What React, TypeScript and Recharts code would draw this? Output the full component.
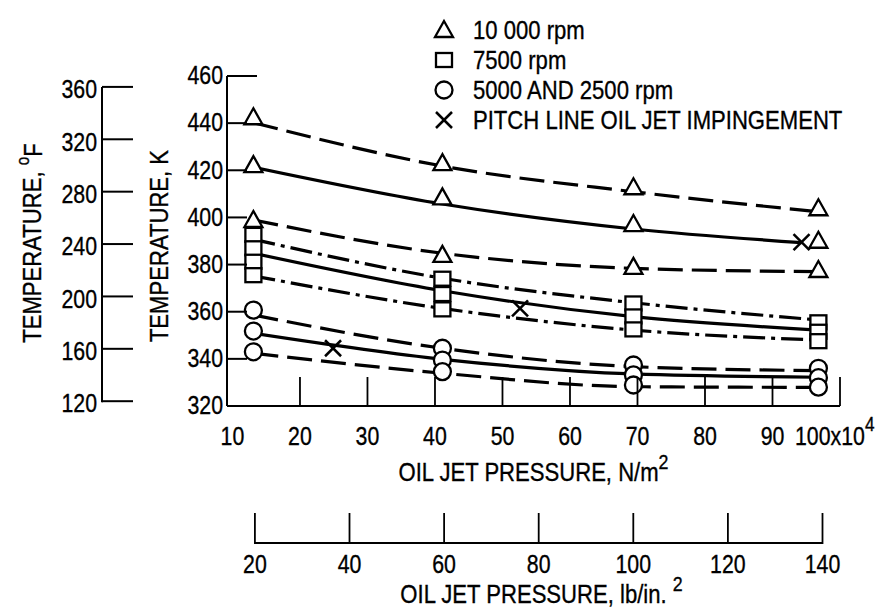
import React from 'react';
import { ComposedChart, Line, Scatter, XAxis, YAxis, Label } from 'recharts';

// Oil jet pressure columns, x10^4 N/m^2 (20, 60, 100, 140 lb/in.^2)
const COLS = [13.1, 41.1, 69.4, 96.8];
const COLS_SOLID_10K = [13.1, 41.1, 69.4, 94.3];

// faired curves, temperature K at each column
const DASH_10K_HI = [440.2, 421.8, 410.9, 402.4];
const SOLID_10K = [421.3, 405.7, 395.1, 389.3];
const DASH_10K_LO = [398.9, 384.8, 378.4, 377.0];
const DASHDOT_7500_HI = [390.7, 374.2, 363.8, 356.5];
const SOLID_7500 = [384.8, 368.9, 357.9, 352.2];
const DASHDOT_7500_LO = [375.2, 361.4, 352.2, 348.0];
const DASH_5000_HI = [358.6, 344.5, 336.7, 335.0];
const SOLID_5000 = [350.8, 339.8, 333.6, 332.2];
const DASH_5000_LO = [342.4, 333.9, 328.2, 327.9];

// measured points, per column
const TRI_K = [
  [442.5, 422.2, 398.9],
  [423.0, 408.5, 384.1],
  [412.8, 397.2, 379.0],
  [403.9, 390.1, 377.7],
];
const SQ_K = [
  [392.6, 386.9, 381.2, 375.5],
  [374.0, 367.5, 361.0],
  [363.5, 358.0, 352.5],
  [355.5, 351.5, 347.5],
];
const CIRC_K = [
  [360.7, 351.8, 343.0],
  [344.5, 339.5, 334.6],
  [337.4, 333.2, 328.9],
  [336.0, 332.0, 328.0],
];
const PITCH_X = [24.9, 52.6, 94.3];
const PITCH_K = [344.5, 361.4, 389.5];

const K_TICKS = [320, 340, 360, 380, 400, 420, 440, 460];
const F_TICKS = [120, 160, 200, 240, 280, 320, 360];
const N_TICKS = [10, 20, 30, 40, 50, 60, 70, 80, 90, 100];
const PSI_TICKS = [20, 40, 60, 80, 100, 120, 140];

const LEGEND = ['10 000 rpm', '7500 rpm', '5000 AND 2500 rpm', 'PITCH LINE OIL JET IMPINGEMENT'];

const FONT = "'Liberation Sans', Arial, sans-serif";
const FS = 26;
const SX_NUM = 0.82;
const SX_WORD = 0.85;

const W = 876;
const H = 610;
const M = { top: 76, right: 36, bottom: 0, left: 0 };
const F_AXIS_W = 102;
const K_AXIS_W = 125;
const N_AXIS_H = 204;
const PSI_LINE_DY = 137;
const PLOT_H = H - M.top - N_AXIS_H;

const K_DOMAIN = [320, 460];
const N_DOMAIN = [9.19, 100];
const PSI_DOMAIN = [14.1, 143.7];
const kToF = (k: number) => (k - 273.15) * 1.8 + 32;
const F_DOMAIN = [kToF(K_DOMAIN[0]), kToF(K_DOMAIN[1])];
const PX_PER_F = PLOT_H / (F_DOMAIN[1] - F_DOMAIN[0]);

const toLine = (xs: number[], ys: number[]) => xs.map((x, i) => ({ x, y: ys[i] }));
const toPoints = (cols: number[][]) =>
  cols.flatMap((vals, i) => vals.map((y) => ({ x: COLS[i], y })));

const triPts = toPoints(TRI_K);
const sqPts = toPoints(SQ_K);
const circPts = toPoints(CIRC_K);
const pitchPts = toLine(PITCH_X, PITCH_K);

const DASH = '25 9';
const DASHDOT = '22 6 4 6';

// condensed lettering: plain font squeezed horizontally
const T = ({ x, y, anchor = 'middle', sx = SX_WORD, rot = 0, children }: any) => (
  <g transform={`translate(${x} ${y}) rotate(${rot}) scale(${sx} 1)`}>
    <text
      x={0}
      y={0}
      textAnchor={anchor}
      dominantBaseline="central"
      fontFamily={FONT}
      fontSize={FS}
      fill="#000"
      stroke="#000"
      strokeWidth={0.35}
    >
      {children}
    </text>
  </g>
);

const Tri = ({ cx, cy }: any) => (
  <polygon
    points={`${cx},${cy - 9} ${cx - 9},${cy + 7} ${cx + 9},${cy + 7}`}
    fill="#fff"
    stroke="#000"
    strokeWidth={2.3}
  />
);
const Sq = ({ cx, cy }: any) => (
  <rect x={cx - 8} y={cy - 7} width={16} height={14} fill="#fff" stroke="#000" strokeWidth={2.3} />
);
const Circ = ({ cx, cy }: any) => <circle cx={cx} cy={cy} r={8.5} fill="#fff" stroke="#000" strokeWidth={2.3} />;
const Cross = ({ cx, cy }: any) => (
  <g stroke="#000" strokeWidth={2.5}>
    <line x1={cx - 8} y1={cy - 8} x2={cx + 8} y2={cy + 8} />
    <line x1={cx - 8} y1={cy + 8} x2={cx + 8} y2={cy - 8} />
  </g>
);

const KTick = ({ x, y, payload }: any) => {
  const v = payload.value;
  const len = v === K_TICKS[K_TICKS.length - 1] ? 30 : 20;
  return (
    <g>
      {v !== K_TICKS[0] && <line x1={x} y1={y} x2={x + len} y2={y} stroke="#000" strokeWidth={2} />}
      <T x={x - 4} y={y - 1} anchor="end" sx={SX_NUM}>
        {v}
      </T>
    </g>
  );
};

const FTick = ({ x, y, payload }: any) => {
  const v = payload.value;
  const seg = (F_TICKS[1] - F_TICKS[0]) * PX_PER_F;
  return (
    <g>
      <line x1={x} y1={y} x2={x + 31} y2={y} stroke="#000" strokeWidth={2} />
      {v !== F_TICKS[F_TICKS.length - 1] && (
        <line x1={x} y1={y + 1} x2={x} y2={y - seg} stroke="#000" strokeWidth={2} />
      )}
      <T x={x - 5} y={y + 2} anchor="end" sx={SX_NUM}>
        {v}
      </T>
    </g>
  );
};

const NTick = ({ x, y, payload }: any) => {
  const v = payload.value;
  const last = v === N_TICKS[N_TICKS.length - 1];
  return (
    <g>
      {v !== N_TICKS[0] && <line x1={x} y1={y} x2={x} y2={y - 29} stroke="#000" strokeWidth={1.8} />}
      {last ? (
        <T x={x - 45} y={y + 30} anchor="start" sx={SX_NUM}>
          100x10
          <tspan dy={-13} fontSize={21}>
            4
          </tspan>
        </T>
      ) : (
        <T x={x} y={y + 30} sx={SX_NUM}>
          {v}
        </T>
      )}
    </g>
  );
};

// titles of both pressure scales and the lb/in.^2 scale itself
const PressureTitles = ({ viewBox }: any) => {
  const { x, y, width } = viewBox;
  const px = (p: number) => x + ((p - PSI_DOMAIN[0]) / (PSI_DOMAIN[1] - PSI_DOMAIN[0])) * width;
  const ly = y + PSI_LINE_DY;
  const first = PSI_TICKS[0];
  const last = PSI_TICKS[PSI_TICKS.length - 1];
  return (
    <g>
      <T x={x + width / 2} y={y + 66}>
        OIL JET PRESSURE, N/m
        <tspan dy={-11} fontSize={21}>
          2
        </tspan>
      </T>
      <line x1={px(first)} y1={ly} x2={px(last)} y2={ly} stroke="#000" strokeWidth={2} />
      {PSI_TICKS.map((p) => (
        <g key={p}>
          <line x1={px(p)} y1={ly + 1} x2={px(p)} y2={ly - 30} stroke="#000" strokeWidth={1.8} />
          <T x={px(p)} y={ly + 21} sx={SX_NUM}>
            {p}
          </T>
        </g>
      ))}
      <T x={x + width / 2 + 8} y={ly + 51}>
        OIL JET PRESSURE, lb/in.{' '}
        <tspan dy={-11} fontSize={21}>
          2
        </tspan>
      </T>
    </g>
  );
};

const KTitle = ({ viewBox }: any) => (
  <T x={viewBox.x + 57} y={viewBox.y + viewBox.height / 2 + 5} rot={-90}>
    TEMPERATURE, K
  </T>
);

const FTitle = ({ viewBox }: any) => (
  <T x={viewBox.x + 32} y={viewBox.y + viewBox.height / 2 + 2} rot={-90}>
    TEMPERATURE,{' '}
    <tspan dy={-9} fontSize={18}>
      o
    </tspan>
    <tspan dy={9}>F</tspan>
  </T>
);

const LegendBox = () => {
  const symbols = [Tri, Sq, Circ, Cross];
  return (
    <svg width={460} height={140} style={{ position: 'absolute', left: 420, top: 0 }}>
      {LEGEND.map((label, i) => {
        const S = symbols[i];
        const cy = 30 + i * 30;
        return (
          <g key={label}>
            <S cx={24} cy={cy} />
            <T x={53} y={cy} anchor="start">
              {label}
            </T>
          </g>
        );
      })}
    </svg>
  );
};

const lineProps = {
  xAxisId: 'N',
  yAxisId: 'aK',
  dataKey: 'y',
  type: 'monotone' as const,
  stroke: '#000',
  strokeWidth: 3.2,
  dot: false,
  activeDot: false,
  isAnimationActive: false,
};

export default function App() {
  return (
    <div style={{ position: 'absolute', left: 0, top: 0, width: W, height: H, background: '#fff' }}>
      <ComposedChart width={W} height={H} margin={M}>
        <XAxis
          xAxisId="N"
          type="number"
          dataKey="x"
          domain={N_DOMAIN}
          ticks={N_TICKS}
          height={N_AXIS_H}
          tickSize={0}
          tickMargin={0}
          tickLine={false}
          tick={<NTick />}
          axisLine={{ stroke: '#000', strokeWidth: 2 }}
          interval={0}
          allowDataOverflow
        >
          <Label content={<PressureTitles />} />
        </XAxis>
        <YAxis
          yAxisId="bF"
          type="number"
          domain={F_DOMAIN}
          ticks={F_TICKS}
          width={F_AXIS_W}
          tickSize={0}
          tickMargin={0}
          tickLine={false}
          tick={<FTick />}
          axisLine={false}
          interval={0}
          allowDataOverflow
        >
          <Label content={<FTitle />} />
        </YAxis>
        <YAxis
          yAxisId="aK"
          type="number"
          domain={K_DOMAIN}
          ticks={K_TICKS}
          width={K_AXIS_W}
          tickSize={0}
          tickMargin={0}
          tickLine={false}
          tick={<KTick />}
          axisLine={{ stroke: '#000', strokeWidth: 2 }}
          interval={0}
          allowDataOverflow
        >
          <Label content={<KTitle />} />
        </YAxis>

        <Line {...lineProps} data={toLine(COLS, DASH_10K_HI)} strokeDasharray={DASH} />
        <Line {...lineProps} data={toLine(COLS_SOLID_10K, SOLID_10K)} />
        <Line {...lineProps} data={toLine(COLS, DASH_10K_LO)} strokeDasharray={DASH} />
        <Line {...lineProps} data={toLine(COLS, DASHDOT_7500_HI)} strokeDasharray={DASHDOT} />
        <Line {...lineProps} data={toLine(COLS, SOLID_7500)} />
        <Line {...lineProps} data={toLine(COLS, DASHDOT_7500_LO)} strokeDasharray={DASHDOT} />
        <Line {...lineProps} data={toLine(COLS, DASH_5000_HI)} strokeDasharray={DASH} />
        <Line {...lineProps} data={toLine(COLS, SOLID_5000)} />
        <Line {...lineProps} data={toLine(COLS, DASH_5000_LO)} strokeDasharray={DASH} />

        <Scatter xAxisId="N" yAxisId="aK" data={triPts} dataKey="y" shape={<Tri />} isAnimationActive={false} />
        <Scatter xAxisId="N" yAxisId="aK" data={sqPts} dataKey="y" shape={<Sq />} isAnimationActive={false} />
        <Scatter xAxisId="N" yAxisId="aK" data={circPts} dataKey="y" shape={<Circ />} isAnimationActive={false} />
        <Scatter xAxisId="N" yAxisId="aK" data={pitchPts} dataKey="y" shape={<Cross />} isAnimationActive={false} />
      </ComposedChart>
      <LegendBox />
    </div>
  );
}
